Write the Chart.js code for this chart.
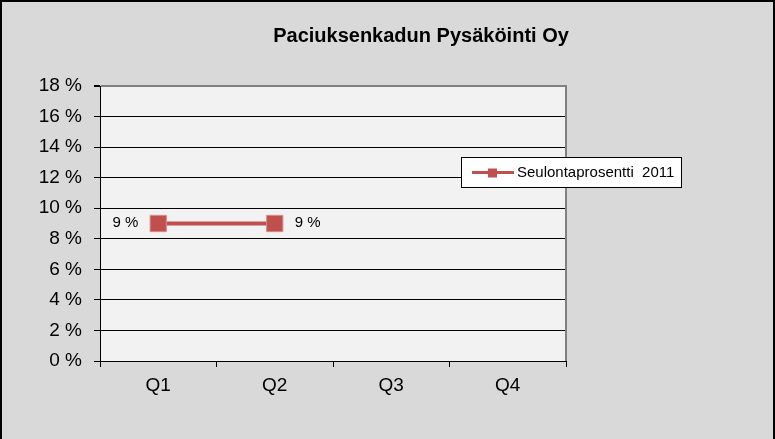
<!DOCTYPE html>
<html><head><meta charset="utf-8">
<script src="https://cdn.jsdelivr.net/npm/chart.js@4.4.0/dist/chart.umd.min.js"></script>
<style>html,body{margin:0;padding:0;background:#d9d9d9;overflow:hidden;}canvas{display:block;}</style>
</head><body><canvas id="c" width="775" height="439"></canvas>
<script>
const chartTitle = 'Paciuksenkadun Pysäköinti Oy';
const categories = ['Q1', 'Q2', 'Q3', 'Q4'];
const seriesLabel = 'Seulontaprosentti  2011';
const seriesValues = [9, 9, null, null];
const yTicks = [0, 2, 4, 6, 8, 10, 12, 14, 16, 18];

const FONT = '"Liberation Sans", Arial, sans-serif';
const RED = '#c0504d';

const decor = {
  id: 'decor',
  beforeDraw(chart) {
    const {ctx, chartArea: a, width, height} = chart;
    ctx.save();
    ctx.fillStyle = '#d9d9d9';
    ctx.fillRect(0, 0, width, height);
    ctx.strokeStyle = '#000';
    ctx.lineWidth = 2;
    ctx.beginPath();
    ctx.moveTo(1, height); ctx.lineTo(1, 1); ctx.lineTo(width - 1, 1); ctx.lineTo(width - 1, height);
    ctx.stroke();
    ctx.fillStyle = '#f2f2f2';
    ctx.fillRect(a.left, a.top, a.right - a.left, a.bottom - a.top);
    ctx.restore();
  },
  afterDatasetsDraw(chart) {
    const {ctx, chartArea: a} = chart;
    ctx.save();
    ctx.strokeStyle = '#808080';
    ctx.lineWidth = 2;
    ctx.beginPath();
    ctx.moveTo(a.right, a.top - 1);
    ctx.lineTo(a.right, a.bottom);
    ctx.stroke();
    const meta = chart.getDatasetMeta(0);
    ctx.fillStyle = '#000';
    ctx.font = '15px ' + FONT;
    ctx.textBaseline = 'middle';
    meta.data.forEach((pt, i) => {
      const v = seriesValues[i];
      if (v === null || v === undefined) return;
      const txt = v + ' %';
      if (i === 0) { ctx.textAlign = 'right'; ctx.fillText(txt, pt.x - 20, pt.y - 1); }
      else { ctx.textAlign = 'left'; ctx.fillText(txt, pt.x + 20, pt.y - 1); }
    });
    ctx.font = 'bold 20px ' + FONT;
    ctx.textAlign = 'center';
    ctx.fillText(chartTitle, 421, 36);
    const lx = 461, ly = 157, lw = 220, lh = 30;
    ctx.fillStyle = '#ffffff';
    ctx.fillRect(lx, ly, lw, lh);
    ctx.strokeStyle = '#000';
    ctx.lineWidth = 1;
    ctx.strokeRect(lx + 0.5, ly + 0.5, lw, lh);
    const cy = ly + lh / 2 + 0.5;
    ctx.strokeStyle = RED;
    ctx.lineWidth = 3;
    ctx.beginPath(); ctx.moveTo(472, cy); ctx.lineTo(514, cy); ctx.stroke();
    ctx.fillStyle = RED;
    ctx.fillRect(488, cy - 4, 9, 9);
    ctx.fillStyle = '#000';
    ctx.font = '15px ' + FONT;
    ctx.textAlign = 'left';
    ctx.fillText(chart.data.datasets[0].label, 517, cy);
    ctx.restore();
  }
};

new Chart(document.getElementById('c'), {
  type: 'line',
  data: {
    labels: categories,
    datasets: [{
      label: seriesLabel,
      data: seriesValues,
      borderColor: RED,
      backgroundColor: RED,
      borderWidth: 4,
      pointStyle: 'rect',
      pointRadius: 11.5,
      pointHoverRadius: 11.5,
      pointBackgroundColor: RED,
      pointBorderColor: '#d98a88',
      pointBorderWidth: 1,
      spanGaps: false,
      tension: 0
    }]
  },
  options: {
    responsive: false,
    animation: false,
    devicePixelRatio: 1,
    layout: { padding: { top: 86, right: 209, left: 0, bottom: 0 } },
    plugins: { legend: { display: false }, title: { display: false }, tooltip: { enabled: false } },
    scales: {
      x: {
        offset: true,
        grid: { offset: true, drawOnChartArea: false, drawTicks: true, tickLength: 6, color: '#000' },
        border: { color: '#000', width: 1 },
        ticks: { color: '#000', font: { family: FONT, size: 19 }, padding: 7 },
        afterFit(s) { s.height = 78; }
      },
      y: {
        min: 0, max: 18,
        afterBuildTicks(s) { s.ticks = yTicks.map(v => ({ value: v })); },
        grid: {
          color: ctx => (ctx.tick && ctx.tick.value === 18) ? '#808080' : '#000',
          lineWidth: ctx => (ctx.tick && ctx.tick.value === 18) ? 2 : 1,
          tickColor: '#000',
          tickLength: 6,
          drawTicks: true
        },
        border: { color: '#000', width: 1 },
        ticks: { color: '#000', font: { family: FONT, size: 19 }, padding: 12, callback: v => v + ' %' },
        afterFit(s) { s.width = 100; }
      }
    }
  },
  plugins: [decor]
});
</script>
</body></html>
